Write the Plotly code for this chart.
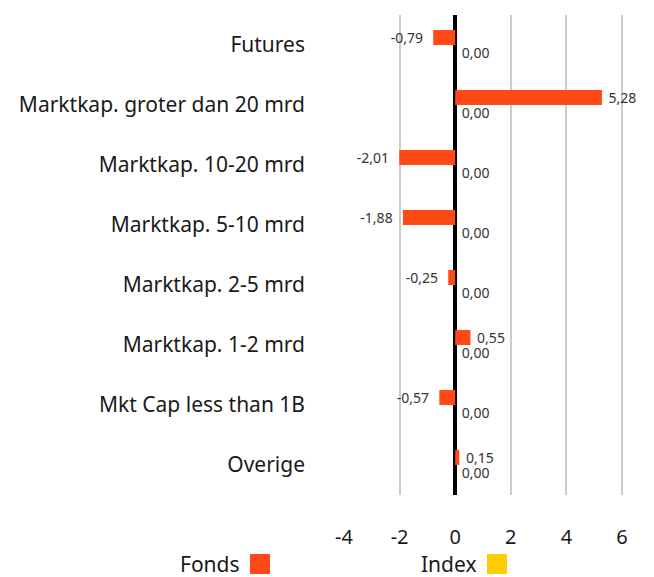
import plotly.graph_objects as go

categories = ["Futures", "Marktkap. groter dan 20 mrd", "Marktkap. 10-20 mrd",
              "Marktkap. 5-10 mrd", "Marktkap. 2-5 mrd", "Marktkap. 1-2 mrd",
              "Mkt Cap less than 1B", "Overige"]
fonds = [-0.79, 5.28, -2.01, -1.88, -0.25, 0.55, -0.57, 0.15]
index_vals = [0.00, 0.00, 0.00, 0.00, 0.00, 0.00, 0.00, 0.00]
tick_vals = [-4, -2, 0, 2, 4, 6]
tick_text = ["-4", "-2", "0", "2", "4", "6"]

FONT = "Noto Sans"
ORANGE = "#FF4A17"
YELLOW = "#FFCE00"
TXT = "#1a1a1a"
NB = "\u00a0"

PLOT_L, PLOT_W, PLOT_T, PLOT_H = 344, 296, 15, 480


def fmt(v):
    s = f"{v:.2f}".replace(".", ",")
    # small padding between bar end and its label
    return s + NB * 2 if v < 0 else NB + s


fig = go.Figure()
fig.add_trace(go.Bar(
    y=categories, x=fonds, orientation="h", name="Fonds",
    marker=dict(color=ORANGE, line=dict(width=0)),
    text=[fmt(v) for v in fonds], textposition="outside",
    textfont=dict(size=14, color="#333333", family=FONT),
    constraintext="none", cliponaxis=False,
))
fig.add_trace(go.Bar(
    y=categories, x=index_vals, orientation="h", name="Index",
    marker=dict(color=YELLOW, line=dict(width=0)),
    text=[fmt(v) for v in index_vals], textposition="outside",
    textfont=dict(size=14, color="#333333", family=FONT),
    constraintext="none", cliponaxis=False,
))

fig.update_layout(
    width=654, height=577,
    margin=dict(l=PLOT_L, r=654 - PLOT_L - PLOT_W, t=PLOT_T, b=577 - PLOT_T - PLOT_H),
    paper_bgcolor="white", plot_bgcolor="white",
    barmode="group", bargap=0.5, bargroupgap=0,
    showlegend=False,
    font=dict(family=FONT, color=TXT, size=21),
    uniformtext=dict(mode=False),
)
fig.update_xaxes(
    range=[-4, 6.65], tickvals=tick_vals, ticktext=tick_text,
    showgrid=True, gridcolor="#cccccc", gridwidth=2,
    zeroline=True, zerolinecolor="black", zerolinewidth=4,
    showline=False, ticks="", ticklabelstandoff=28,
    tickfont=dict(size=20, color=TXT, family=FONT),
    fixedrange=True,
)
fig.update_yaxes(
    autorange="reversed", showgrid=False, ticks="", showline=False,
    ticklabelstandoff=38, tickfont=dict(size=21, color=TXT, family=FONT),
    fixedrange=True,
)

# legend drawn below the chart: text followed by a coloured square
legend_names = ["Fonds", "Index"]
legend_colors = [ORANGE, YELLOW]
legend_text_right = [242, 479]
legend_square_left = [250, 487]
for name, color, tr, sl in zip(legend_names, legend_colors, legend_text_right, legend_square_left):
    fig.add_annotation(
        xref="paper", yref="paper", x=(tr - PLOT_L) / PLOT_W,
        y=(PLOT_T + PLOT_H - 564) / PLOT_H, xanchor="right", yanchor="middle",
        showarrow=False, text=name, font=dict(size=21, color=TXT, family=FONT),
    )
    fig.add_shape(
        type="rect", xref="paper", yref="paper",
        x0=(sl - PLOT_L) / PLOT_W, x1=(sl + 20 - PLOT_L) / PLOT_W,
        y0=(PLOT_T + PLOT_H - 574) / PLOT_H, y1=(PLOT_T + PLOT_H - 554) / PLOT_H,
        fillcolor=color, line=dict(width=0),
    )

fig.write_html("out.html", config={"displayModeBar": False},
               post_script="document.body.style.margin='0';")
